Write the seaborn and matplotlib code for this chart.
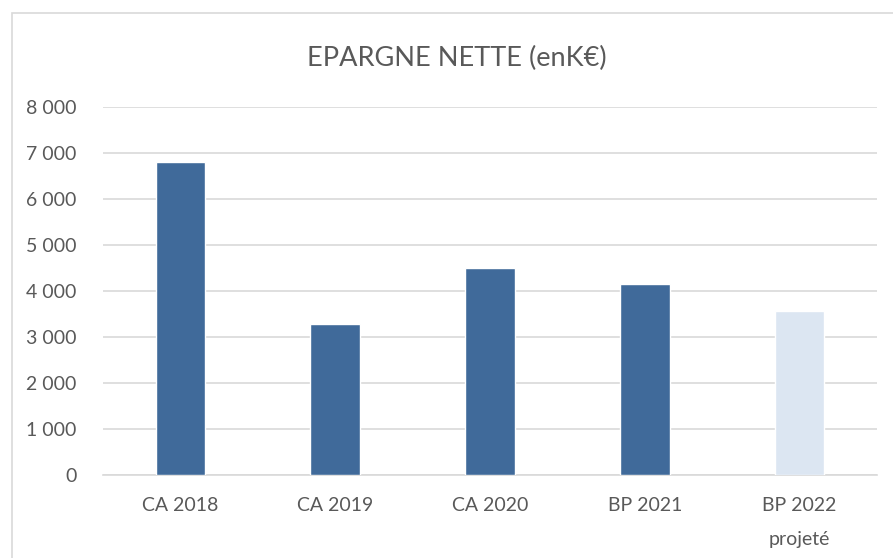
import matplotlib
matplotlib.use("Agg")
import matplotlib.pyplot as plt
from matplotlib.patches import Rectangle
from matplotlib.ticker import FuncFormatter
import seaborn as sns

categories = ["CA 2018", "CA 2019", "CA 2020", "BP 2021", "BP 2022\nprojeté"]
values = [6800, 3290, 4500, 4150, 3575]
bar_colors = ["#406A9A", "#406A9A", "#406A9A", "#406A9A", "#DCE6F2"]
y_ticks = [0, 1000, 2000, 3000, 4000, 5000, 6000, 7000, 8000]
title = "EPARGNE NETTE (enK€)"

sns.set_theme(style="white")
plt.rcParams["font.family"] = ["Lato", "DejaVu Sans"]

text_color = "#595959"
grid_color = "#D9D9D9"

fig = plt.figure(figsize=(8.93, 5.58), dpi=100)
ax = fig.add_axes([103 / 893, 1 - 475 / 558, 774 / 893, 368 / 558])

sns.barplot(x=categories, y=values, hue=categories, palette=bar_colors,
            legend=False, width=0.32, saturation=1, ax=ax, zorder=3)

ax.set_xlim(-0.5, len(categories) - 0.5)
ax.set_ylim(0, 8000)
ax.set_yticks(y_ticks)
ax.yaxis.set_major_formatter(FuncFormatter(lambda v, _: f"{int(v):,}".replace(",", " ")))
ax.grid(axis="y", color=grid_color, linewidth=1.2, zorder=0)
ax.set_axisbelow(True)
for side in ["top", "right", "left"]:
    ax.spines[side].set_visible(False)
ax.spines["bottom"].set_color(grid_color)
ax.spines["bottom"].set_linewidth(1.2)
ax.tick_params(axis="both", length=0, labelsize=14, labelcolor=text_color)
ax.tick_params(axis="y", pad=19)
ax.tick_params(axis="x", pad=16)
for lbl in ax.get_xticklabels():
    lbl.set_linespacing(2.2)
ax.set_xlabel("")
ax.set_ylabel("")

fig.text(457 / 893, 1 - 58 / 558, title, ha="center", va="center",
         fontsize=19.5, color=text_color)

# chart-area border
fig.patches.append(Rectangle((12 / 893, -0.05), 1.0, 1.05 - 13 / 558,
                             transform=fig.transFigure, fill=False,
                             edgecolor=grid_color, linewidth=1.2))

fig.savefig("out.png", dpi=100)
